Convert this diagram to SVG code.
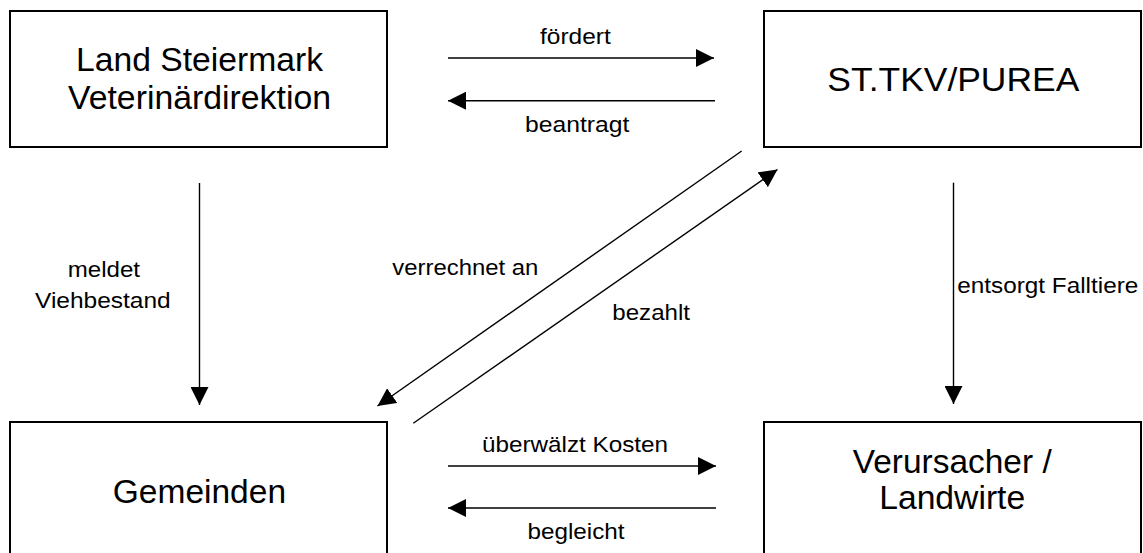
<svg xmlns="http://www.w3.org/2000/svg" width="1143" height="553" viewBox="0 0 1143 553">
<style>
.box{fill:#fff;stroke:#000;stroke-width:2}
.big{font-family:"Liberation Sans",Arial,sans-serif;font-size:32.5px;fill:#000;text-anchor:middle}
.lbl{font-family:"Liberation Sans",Arial,sans-serif;font-size:22px;fill:#000}
.c{fill:none;stroke:#000;stroke-width:1.4;marker-end:url(#ah)}
</style>
<defs>
<marker id="ah" markerUnits="userSpaceOnUse" markerWidth="18" markerHeight="18" refX="18" refY="9" orient="auto" viewBox="0 0 18 18">
<path d="M0,0 L18,9 L0,18 z" fill="#000"/>
</marker>
</defs>
<rect width="1143" height="553" fill="#fff"/>
<g id="land">
<rect class="box" x="10" y="11" width="377" height="136"/>
<text class="big" x="199.5" y="70.5" textLength="247" lengthAdjust="spacingAndGlyphs">Land Steiermark</text>
<text class="big" x="199.5" y="109" textLength="263" lengthAdjust="spacingAndGlyphs">Veterinärdirektion</text>
</g>
<g id="tkv">
<rect class="box" x="764" y="11" width="377" height="136"/>
<text class="big" x="953.3" y="90.5" textLength="252" lengthAdjust="spacingAndGlyphs">ST.TKV/PUREA</text>
</g>
<g id="gemeinden">
<rect class="box" x="10" y="422" width="377" height="160"/>
<text class="big" x="199.4" y="503" textLength="173.3" lengthAdjust="spacingAndGlyphs">Gemeinden</text>
</g>
<g id="verursacher">
<rect class="box" x="764" y="422" width="377" height="160"/>
<text class="big" x="952.2" y="473" textLength="199" lengthAdjust="spacingAndGlyphs">Verursacher /</text>
<text class="big" x="952.2" y="509" textLength="146" lengthAdjust="spacingAndGlyphs">Landwirte</text>
</g>
<g id="connectors">
<line class="c" x1="448" y1="58" x2="714" y2="58"/>
<line class="c" x1="715" y1="100.7" x2="448" y2="100.7"/>
<line class="c" x1="448" y1="466" x2="716" y2="466"/>
<line class="c" x1="716" y1="508" x2="448" y2="508"/>
<line class="c" x1="199.5" y1="183" x2="199.5" y2="405"/>
<line class="c" x1="953.5" y1="182.7" x2="953.5" y2="404"/>
<line class="c" x1="741.7" y1="151" x2="377.5" y2="406"/>
<line class="c" x1="413.3" y1="423.3" x2="777.5" y2="169.5"/>
<text class="lbl" x="540" y="44.3" textLength="70.7" lengthAdjust="spacingAndGlyphs">fördert</text>
<text class="lbl" x="525" y="132" textLength="104.3" lengthAdjust="spacingAndGlyphs">beantragt</text>
<text class="lbl" x="482" y="452" textLength="186" lengthAdjust="spacingAndGlyphs">überwälzt Kosten</text>
<text class="lbl" x="527.5" y="539" textLength="97" lengthAdjust="spacingAndGlyphs">begleicht</text>
<text class="lbl" x="67.7" y="277.3" textLength="72.3" lengthAdjust="spacingAndGlyphs">meldet</text>
<text class="lbl" x="35" y="308.3" textLength="135.7" lengthAdjust="spacingAndGlyphs">Viehbestand</text>
<text class="lbl" x="957.3" y="292.7" textLength="181" lengthAdjust="spacingAndGlyphs">entsorgt Falltiere</text>
<text class="lbl" x="392.3" y="275" textLength="146" lengthAdjust="spacingAndGlyphs">verrechnet an</text>
<text class="lbl" x="612.3" y="320" textLength="77.7" lengthAdjust="spacingAndGlyphs">bezahlt</text>
</g>
</svg>
